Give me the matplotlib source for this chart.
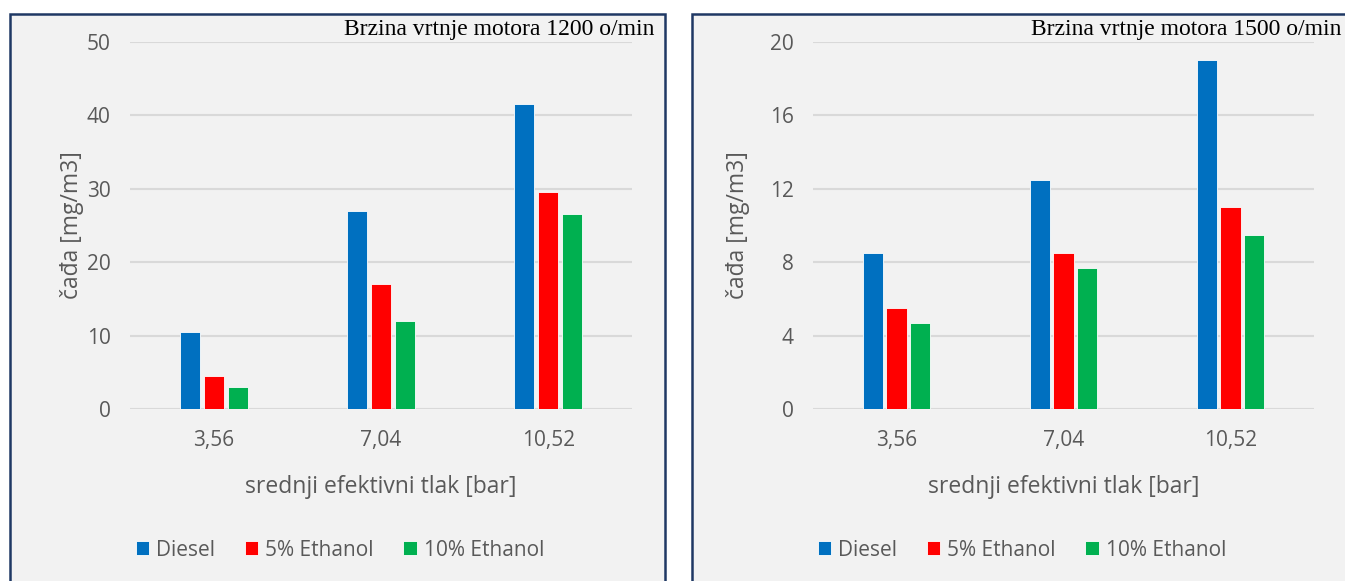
import matplotlib.pyplot as plt
from matplotlib.patches import Rectangle
import numpy as np

categories = ["3,56", "7,04", "10,52"]
series = ["Diesel", "5% Ethanol", "10% Ethanol"]
colors = ["#0070C0", "#FF0000", "#00B050"]

# soot at 1200 rpm
soot_1200 = [
    [10.5, 27.0, 41.5],
    [4.5, 17.0, 29.5],
    [3.0, 12.0, 26.5],
]
# soot at 1500 rpm
soot_1500 = [
    [8.5, 12.5, 19.0],
    [5.5, 8.5, 11.0],
    [4.7, 7.7, 9.5],
]

titles = ["Brzina vrtnje motora 1200 o/min", "Brzina vrtnje motora 1500 o/min"]
yticks = [[0, 10, 20, 30, 40, 50], [0, 4, 8, 12, 16, 20]]

W, H = 1345, 581
fig = plt.figure(figsize=(W / 100, H / 100), dpi=100)
fig.patch.set_facecolor("white")

plt.rcParams["font.family"] = ["Open Sans", "DejaVu Sans"]
grey = "#595959"


def fx(px):
    return px / W


def fy(py):
    return 1 - py / H


panels = [
    dict(box=(10, 14, 665, 590), ax=(130, 42, 632, 409), title_x=654, ylab_x=72, leg_x=340),
    dict(box=(692, 14, 1360, 590), ax=(813, 42, 1314, 409), title_x=1341, ylab_x=738, leg_x=1022),
]

for i, p in enumerate(panels):
    x0, y0, x1, y1 = p["box"]
    fig.patches.append(Rectangle((fx(x0), fy(y1)), fx(x1 - x0), (y1 - y0) / H,
                                 transform=fig.transFigure, facecolor="#F2F2F2",
                                 edgecolor="#1F3864", linewidth=1.8, zorder=-10))
    ax0, ay0, ax1, ay1 = p["ax"]
    ax = fig.add_axes([fx(ax0), fy(ay1), fx(ax1 - ax0), (ay1 - ay0) / H])
    ax.set_facecolor("none")
    ax.set_zorder(2)

    data = soot_1200 if i == 0 else soot_1500
    x = np.arange(len(categories))
    width = 0.12
    step = 0.143
    for j, (name, vals) in enumerate(zip(series, data)):
        ax.bar(x + (j - 1) * step, vals, width, color=colors[j], label=name,
               edgecolor="white", linewidth=0.6, zorder=3)

    ticks = yticks[i]
    ax.set_ylim(0, ticks[-1])
    ax.set_yticks(ticks)
    ax.set_xlim(-0.5, 2.5)
    ax.set_xticks(x)
    ax.set_xticklabels(categories)
    ax.grid(axis="y", color="#D9D9D9", linewidth=1.5, zorder=0)
    for s in ax.spines.values():
        s.set_visible(False)
    ax.tick_params(length=0, labelsize=15, labelcolor=grey)
    ax.tick_params(axis="y", pad=14)
    ax.tick_params(axis="x", pad=15)

    fig.text(fx(p["title_x"]), fy(30), titles[i], ha="right", va="center",
             fontsize=17, family="Liberation Serif", color="black", zorder=5)
    fig.text(fx(p["ylab_x"]), (fy(42) + fy(409)) / 2, "čađa [mg/m3]", rotation=90,
             ha="center", va="center", fontsize=16.5, color=grey)
    fig.text((fx(ax0) + fx(ax1)) / 2, fy(487), "srednji efektivni tlak [bar]",
             ha="center", va="center", fontsize=16.5, color=grey)

    leg = fig.legend(*ax.get_legend_handles_labels(), loc="center",
                     bbox_to_anchor=(fx(p["leg_x"]), fy(550)), ncol=3, frameon=False,
                     fontsize=15, handlelength=0.65, handleheight=0.65,
                     handletextpad=0.35, columnspacing=1.4)
    for t in leg.get_texts():
        t.set_color(grey)

fig.savefig("out.png", dpi=100, facecolor=fig.get_facecolor())
